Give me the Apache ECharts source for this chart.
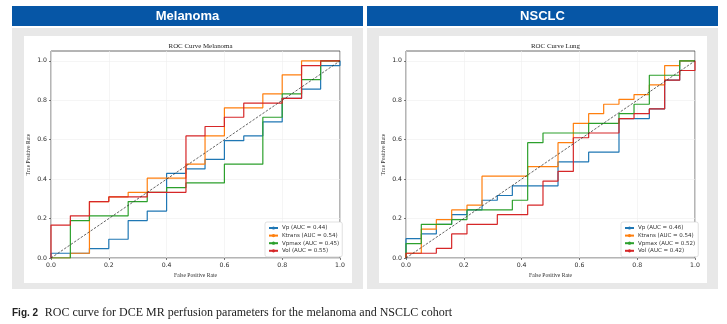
<!DOCTYPE html>
<html>
<head>
<meta charset="utf-8">
<script src="https://cdn.jsdelivr.net/npm/echarts@6/dist/echarts.min.js"></script>
<style>html,body{margin:0;padding:0;background:#fff;}#c{width:727px;height:324px;}</style>
</head>
<body>
<div id="c"></div>
<script>
// ---- Data ----
const panelTitles = ['Melanoma', 'NSCLC'];
const plotTitles = ['ROC Curve Melanoma', 'ROC Curve Lung'];
const seriesColors = ['#1f77b4', '#ff7f0e', '#2ca02c', '#d62728'];
const tickValues = [0, 0.2, 0.4, 0.6, 0.8, 1.0];

const melNames = ['Vp (AUC = 0.44)', 'Ktrans (AUC = 0.54)', 'Vpmax (AUC = 0.45)', 'Vol (AUC = 0.55)'];
const lungNames = ['Vp (AUC = 0.46)', 'Ktrans (AUC = 0.54)', 'Vpmax (AUC = 0.52)', 'Vol (AUC = 0.42)'];

const melVpFpr = [0,0,0.133,0.133,0.2,0.2,0.267,0.267,0.333,0.333,0.4,0.4,0.467,0.467,0.533,0.533,0.6,0.6,0.667,0.667,0.733,0.733,0.8,0.8,0.867,0.867,0.933,0.933,1,1];
const melVpTpr = [0,0.024,0.024,0.048,0.048,0.095,0.095,0.19,0.19,0.238,0.238,0.429,0.429,0.452,0.452,0.5,0.5,0.595,0.595,0.619,0.619,0.69,0.69,0.81,0.81,0.857,0.857,0.976,0.976,1];

const melKtransFpr = [0,0.067,0.067,0.133,0.133,0.2,0.2,0.267,0.267,0.333,0.333,0.467,0.467,0.533,0.533,0.6,0.6,0.733,0.733,0.8,0.8,0.867,0.867,1];
const melKtransTpr = [0,0,0.024,0.024,0.286,0.286,0.31,0.31,0.333,0.333,0.405,0.405,0.476,0.476,0.619,0.619,0.762,0.762,0.833,0.833,0.929,0.929,1,1];

const melVpmaxFpr = [0,0.067,0.067,0.133,0.133,0.267,0.267,0.333,0.333,0.4,0.4,0.467,0.467,0.6,0.6,0.733,0.733,0.8,0.8,0.867,0.867,0.933,0.933,1];
const melVpmaxTpr = [0,0,0.19,0.19,0.214,0.214,0.286,0.286,0.333,0.333,0.357,0.357,0.381,0.381,0.476,0.476,0.714,0.714,0.833,0.833,0.905,0.905,1,1];

const melVolFpr = [0,0,0.067,0.067,0.133,0.133,0.2,0.2,0.333,0.333,0.467,0.467,0.533,0.533,0.6,0.6,0.667,0.667,0.8,0.8,0.867,0.867,0.933,0.933,1];
const melVolTpr = [0,0.167,0.167,0.214,0.214,0.286,0.286,0.31,0.31,0.333,0.333,0.619,0.619,0.667,0.667,0.714,0.714,0.786,0.786,0.81,0.81,0.976,0.976,1,1];

const lungVpFpr = [0,0,0.053,0.053,0.105,0.105,0.158,0.158,0.211,0.211,0.263,0.263,0.316,0.316,0.368,0.368,0.526,0.526,0.632,0.632,0.737,0.737,0.842,0.842,0.895,0.895,0.947,0.947,1];
const lungVpTpr = [0,0.098,0.098,0.122,0.122,0.171,0.171,0.22,0.22,0.244,0.244,0.293,0.293,0.317,0.317,0.366,0.366,0.488,0.488,0.537,0.537,0.707,0.707,0.756,0.756,0.902,0.902,1,1];

const lungKtransFpr = [0,0,0.053,0.053,0.105,0.105,0.158,0.158,0.211,0.211,0.263,0.263,0.421,0.421,0.526,0.526,0.579,0.579,0.632,0.632,0.684,0.684,0.737,0.737,0.789,0.789,0.842,0.842,0.895,0.895,0.947,0.947,1];
const lungKtransTpr = [0,0.024,0.024,0.146,0.146,0.195,0.195,0.244,0.244,0.268,0.268,0.415,0.415,0.463,0.463,0.585,0.585,0.683,0.683,0.732,0.732,0.78,0.78,0.805,0.805,0.829,0.829,0.878,0.878,0.976,0.976,1,1];

const lungVpmaxFpr = [0,0,0.053,0.053,0.158,0.158,0.211,0.211,0.368,0.368,0.421,0.421,0.474,0.474,0.632,0.632,0.737,0.737,0.789,0.789,0.842,0.842,0.947,0.947,1];
const lungVpmaxTpr = [0,0.073,0.073,0.171,0.171,0.195,0.195,0.244,0.244,0.293,0.293,0.585,0.585,0.634,0.634,0.683,0.683,0.732,0.732,0.78,0.78,0.927,0.927,1,1];

const lungVolFpr = [0,0,0.105,0.105,0.158,0.158,0.211,0.211,0.316,0.316,0.421,0.421,0.474,0.474,0.526,0.526,0.579,0.579,0.632,0.632,0.737,0.737,0.789,0.789,0.842,0.842,0.895,0.895,0.947,0.947,1,1];
const lungVolTpr = [0,0.024,0.024,0.049,0.049,0.122,0.122,0.171,0.171,0.22,0.22,0.268,0.268,0.39,0.39,0.439,0.439,0.61,0.61,0.634,0.634,0.707,0.707,0.732,0.732,0.756,0.756,0.902,0.902,0.951,0.951,1];

const chanceFpr = [0, 1];
const chanceTpr = [0, 1];

const captionBold = 'Fig. 2';
const captionText = 'ROC curve for DCE MR perfusion parameters for the melanoma and NSCLC cohort';

// ---- Build chart ----
const zip = (a, b) => a.map((v, i) => [v, b[i]]);
const panels = [
  { names: melNames, curves: [[melVpFpr, melVpTpr], [melKtransFpr, melKtransTpr], [melVpmaxFpr, melVpmaxTpr], [melVolFpr, melVolTpr]] },
  { names: lungNames, curves: [[lungVpFpr, lungVpTpr], [lungKtransFpr, lungKtransTpr], [lungVpmaxFpr, lungVpmaxTpr], [lungVolFpr, lungVolTpr]] }
];

const gridLeft = [51, 406];
const headerX = [12, 367];
const headerW = [351, 351];
const whiteX = [24, 379];
const legendLeft = [265, 621];

const serif = '"Liberation Serif", "DejaVu Serif", serif';
const sans = '"DejaVu Sans", "Liberation Sans", sans-serif';

const grids = [], xAxes = [], yAxes = [], series = [], legends = [], titles = [], graphics = [];

panels.forEach((p, k) => {
  grids.push({ left: gridLeft[k], top: 51, width: 289, height: 207, show: true, borderColor: '#444', borderWidth: 0.8, backgroundColor: '#fff' });
  xAxes.push({
    type: 'value', gridIndex: k, min: 0, max: 1, interval: 0.2,
    name: 'False Positive Rate', nameLocation: 'middle', nameGap: 14,
    nameTextStyle: { fontFamily: serif, fontSize: 5.6, color: '#333' },
    axisLine: { show: false },
    axisTick: { show: true, length: 2, lineStyle: { color: '#444', width: 0.7 } },
    axisLabel: { fontSize: 6.2, fontFamily: sans, color: '#2a2a2a', margin: 4, formatter: v => v.toFixed(1) },
    splitLine: { show: true, lineStyle: { color: '#eeeeee', width: 0.6 } }
  });
  yAxes.push({
    type: 'value', gridIndex: k, min: 0, max: 1.05,
    name: 'True Positive Rate', nameLocation: 'middle', nameGap: 19,
    nameTextStyle: { fontFamily: serif, fontSize: 5.6, color: '#333' },
    axisLine: { show: false },
    axisTick: { show: true, length: 2, customValues: tickValues, lineStyle: { color: '#444', width: 0.7 } },
    axisLabel: { fontSize: 6.2, fontFamily: sans, color: '#2a2a2a', margin: 4, customValues: tickValues, formatter: v => v.toFixed(1) },
    splitLine: { show: true, lineStyle: { color: '#eeeeee', width: 0.6 } }
  });
  p.curves.forEach((c, i) => {
    series.push({
      type: 'line', name: p.names[i], xAxisIndex: k, yAxisIndex: k,
      data: zip(c[0], c[1]), symbol: 'none', silent: true, animation: false,
      lineStyle: { color: seriesColors[i], width: 1.2 }, itemStyle: { color: seriesColors[i] }
    });
  });
  series.push({
    type: 'line', name: 'chance' + k, xAxisIndex: k, yAxisIndex: k,
    data: zip(chanceFpr, chanceTpr), symbol: 'none', silent: true, animation: false,
    lineStyle: { color: '#222', width: 0.7, type: [2.5, 1.5] }
  });
  legends.push({
    data: p.names, orient: 'vertical', left: legendLeft[k], top: 222,
    itemWidth: 9, itemHeight: 4, itemGap: 1.6, padding: [3, 3, 3, 3],
    backgroundColor: '#fff', borderColor: '#ccc', borderWidth: 0.6, borderRadius: 2,
    textStyle: { fontSize: 5.5, fontFamily: sans, color: '#333', padding: [0, 0, 0, -1] },
    selectedMode: false
  });
  titles.push({
    text: plotTitles[k], left: gridLeft[k] + 144.5, top: 38, textAlign: 'center',
    textStyle: { fontFamily: serif, fontSize: 6.9, fontWeight: 'normal', color: '#222' }
  });
  // panel decoration
  graphics.push({ type: 'rect', z: -10, shape: { x: headerX[k], y: 6, width: headerW[k], height: 20 }, style: { fill: '#0656a6' } });
  graphics.push({ type: 'rect', z: -10, shape: { x: headerX[k], y: 28, width: headerW[k], height: 261 }, style: { fill: '#e8e8e8' } });
  graphics.push({ type: 'rect', z: -9, shape: { x: whiteX[k], y: 36, width: 328, height: 247 }, style: { fill: '#fff' } });
  graphics.push({ type: 'text', z: 10, x: headerX[k] + headerW[k] / 2, y: 16, style: { text: panelTitles[k], fill: '#fff', font: 'bold 13px "Liberation Sans", Arial, sans-serif', textAlign: 'center', textVerticalAlign: 'middle' } });
});

graphics.push({
  type: 'text', x: 12, y: 313,
  style: {
    text: '{b|' + captionBold + '}  {r|' + captionText + '}',
    textVerticalAlign: 'middle',
    rich: {
      b: { fontFamily: '"Liberation Sans", Arial, sans-serif', fontWeight: 'bold', fontSize: 10, fill: '#222' },
      r: { fontFamily: serif, fontSize: 12, fill: '#222' }
    }
  }
});

const chart = echarts.init(document.getElementById('c'), null, { renderer: 'canvas' });
chart.setOption({
  animation: false,
  backgroundColor: '#fff',
  title: titles,
  grid: grids,
  xAxis: xAxes,
  yAxis: yAxes,
  legend: legends,
  series: series,
  graphic: graphics
});
</script>
</body>
</html>
